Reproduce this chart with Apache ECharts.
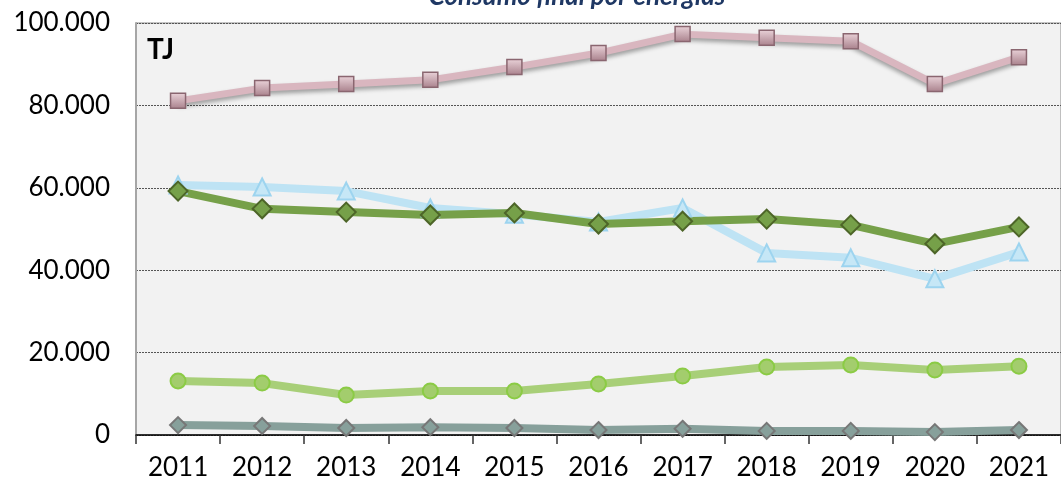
<!DOCTYPE html>
<html><head><meta charset="utf-8">
<script src="https://cdn.jsdelivr.net/npm/echarts@6/dist/echarts.min.js"></script>
<style>html,body{margin:0;padding:0;background:#fff}#c{width:1061px;height:481px}</style>
</head><body><div id="c"></div>
<script>
const years = ['2011','2012','2013','2014','2015','2016','2017','2018','2019','2020','2021'];
const pinkSeries = [81100, 84200, 85200, 86200, 89300, 92700, 97300, 96400, 95600, 85200, 91700];
const blueSeries = [60700, 60200, 59200, 55100, 53600, 51700, 55100, 44200, 43000, 37900, 44400];
const darkGreenSeries = [59200, 54900, 54100, 53400, 53900, 51200, 51900, 52400, 51000, 46400, 50500];
const lightGreenSeries = [13100, 12600, 9700, 10700, 10700, 12400, 14300, 16500, 17000, 15800, 16700];
const graySeries = [2400, 2200, 1700, 1900, 1700, 1200, 1500, 1000, 1000, 700, 1200];
const yTicks = [0, 20000, 40000, 60000, 80000, 100000];

const chart = echarts.init(document.getElementById('c'));
function fmt(v){ return v === 0 ? '0' : String(v).replace(/\B(?=(\d{3})+(?!\d))/g, '.'); }
const FONT = 'Lato';
function mk(name, data, lineColor, symbol, size, fill, border, bw, extra){
  return Object.assign({
    name, type:'line', data, symbol, symbolSize:size,
    lineStyle:{color:lineColor, width:8},
    itemStyle:{color:fill, borderColor:border, borderWidth:bw},
    emphasis:{disabled:true}
  }, extra||{});
}
chart.setOption({
  animation:false,
  textStyle:{fontFamily:FONT},
  grid:{left:136, right:0, top:23, bottom:46, show:true, backgroundColor:'#F2F2F2', borderColor:'#8c8c8c', borderWidth:1},
  graphic:[
    {type:'text', x:577, y:-16, style:{text:'Consumo final por energías', font:'italic bold 26px Lato', fill:'#1F3864', align:'center', verticalAlign:'top'}},
    {type:'text', x:147, y:36, style:{text:'TJ', font:'bold 28px Lato', fill:'#000'}}
  ],
  xAxis:{type:'category', data:years, boundaryGap:true,
    axisLine:{lineStyle:{color:'#000', width:1.5}},
    axisTick:{show:true, length:9, lineStyle:{color:'#333', width:1.5}},
    axisLabel:{color:'#000', fontSize:26, margin:20, fontFamily:FONT}},
  yAxis:{type:'value', min:0, max:100000, interval:20000,
    axisLine:{show:true, lineStyle:{color:'#a6a6a6', width:2}},
    axisTick:{show:false},
    axisLabel:{color:'#000', fontSize:26, margin:26, fontFamily:FONT,
      formatter:v => yTicks.includes(v) ? fmt(v) : ''},
    splitLine:{show:true, lineStyle:{color:'#555', type:[2,1], width:1}}},
  series:[
    mk('pink', pinkSeries, '#D9B6BF', 'rect', 15,
      new echarts.graphic.LinearGradient(0,0,0,1,[{offset:0,color:'#EAD3D9'},{offset:1,color:'#A8808B'}]),
      '#8A6670', 1.5,
      {lineStyle:{color:'#D9B6BF', width:7, shadowColor:'rgba(0,0,0,0.35)', shadowBlur:4, shadowOffsetY:3}}),
    mk('blue', blueSeries, '#BEE3F4', 'triangle', 17, '#C6E7F6', '#9DD4EF', 2),
    mk('darkgreen', darkGreenSeries, '#76A049', 'diamond', 19, '#76A049', '#4D6528', 2),
    mk('lightgreen', lightGreenSeries, '#A8CF78', 'circle', 15, '#A3CD6D', '#8BCB45', 2),
    mk('gray', graySeries, '#87A09B', 'diamond', 16, '#87A09B', '#777', 2)
  ]
});
</script></body></html>
